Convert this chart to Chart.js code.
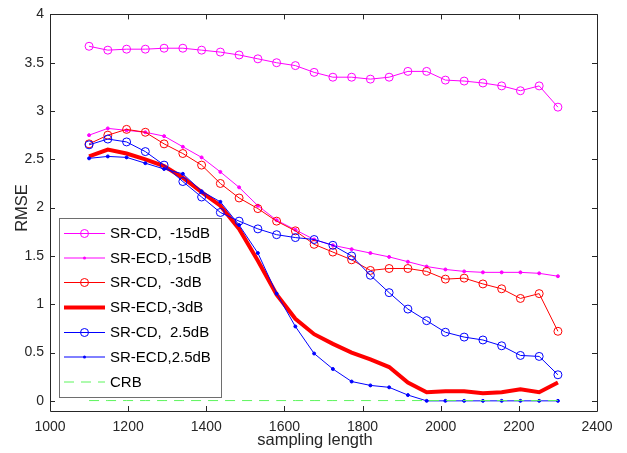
<!DOCTYPE html>
<html>
<head>
<meta charset="utf-8">
<script src="https://cdn.jsdelivr.net/npm/chart.js@4.4.1/dist/chart.umd.min.js"></script>
<style>
  html, body { margin: 0; padding: 0; background: #fff; }
  #wrap { width: 627px; height: 453px; }
</style>
</head>
<body>
<div id="wrap"><canvas id="chart" width="627" height="453"></canvas></div>
<script>
// sampling lengths (x)
const samplingLength = [1100, 1148, 1196, 1244, 1292, 1340, 1388, 1436, 1484, 1532, 1580, 1628, 1676,
    1724, 1772, 1820, 1868, 1916, 1964, 2012, 2060, 2108, 2156, 2204, 2252, 2300];

const srCd15 = [3.67, 3.63, 3.64, 3.64, 3.65, 3.65, 3.63, 3.61, 3.58, 3.54, 3.50, 3.47, 3.40,
    3.35, 3.35, 3.33, 3.35, 3.41, 3.41, 3.32, 3.31, 3.29, 3.26, 3.21, 3.26, 3.04];
const srEcd15 = [2.75, 2.82, 2.80, 2.78, 2.74, 2.63, 2.52, 2.37, 2.21, 2.02, 1.87, 1.77, 1.67,
    1.61, 1.57, 1.53, 1.49, 1.44, 1.39, 1.36, 1.34, 1.33, 1.33, 1.33, 1.32, 1.29];
const srCd3 = [2.66, 2.75, 2.81, 2.78, 2.66, 2.56, 2.44, 2.25, 2.10, 1.99, 1.86, 1.76, 1.62,
    1.54, 1.46, 1.35, 1.37, 1.37, 1.34, 1.26, 1.27, 1.21, 1.16, 1.06, 1.11, 0.72];
const srEcd3 = [2.53, 2.60, 2.56, 2.50, 2.43, 2.31, 2.16, 2.02, 1.78, 1.45, 1.10, 0.85, 0.69,
    0.59, 0.50, 0.43, 0.35, 0.19, 0.09, 0.10, 0.10, 0.08, 0.09, 0.12, 0.09, 0.19];
const srCd25 = [2.65, 2.71, 2.68, 2.58, 2.44, 2.27, 2.11, 1.95, 1.86, 1.78, 1.72, 1.69, 1.67,
    1.61, 1.50, 1.30, 1.12, 0.95, 0.83, 0.71, 0.66, 0.63, 0.57, 0.47, 0.46, 0.27];
const srEcd25 = [2.51, 2.53, 2.52, 2.46, 2.40, 2.35, 2.17, 2.06, 1.82, 1.53, 1.11, 0.77, 0.49,
    0.33, 0.20, 0.16, 0.14, 0.06, 0.00, 0.00, 0.00, 0.00, 0.00, 0.00, 0.00, 0.00];
const crb = [0.003, 0.003, 0.003, 0.003, 0.003, 0.003, 0.003, 0.003, 0.003, 0.003, 0.003, 0.003, 0.003,
    0.003, 0.003, 0.003, 0.003, 0.003, 0.003, 0.003, 0.003, 0.003, 0.003, 0.003, 0.003, 0.003];

const xTicks = [1000, 1200, 1400, 1600, 1800, 2000, 2200, 2400];
const yTicks = [0, 0.5, 1, 1.5, 2, 2.5, 3, 3.5, 4];

const FONT = '"Liberation Sans", Arial, sans-serif';
const AXIS_COLOR = '#262626';

function pts(arr) {
    return arr.map((v, i) => ({ x: samplingLength[i], y: v }));
}

function series(label, values, color, opts) {
    return Object.assign({
        label: label,
        data: pts(values),
        borderColor: color,
        backgroundColor: color,
        borderWidth: 1,
        pointRadius: 0,
        pointBorderWidth: 1,
        pointHoverRadius: 0,
        tension: 0,
        fill: false
    }, opts);
}

const datasets = [
    series('SR-CD,  -15dB', srCd15, '#ff00ff', { pointRadius: 4, pointBackgroundColor: 'rgba(0,0,0,0)', pointBorderColor: '#ff00ff' }),
    series('SR-ECD,-15dB', srEcd15, '#ff00ff', { pointRadius: 1.5, pointBackgroundColor: '#ff00ff' }),
    series('SR-CD,  -3dB', srCd3, '#ff0000', { pointRadius: 4, pointBackgroundColor: 'rgba(0,0,0,0)', pointBorderColor: '#ff0000' }),
    series('SR-ECD,-3dB', srEcd3, '#ff0000', { borderWidth: 4, pointRadius: 0 }),
    series('SR-CD,  2.5dB', srCd25, '#0000ff', { pointRadius: 4, pointBackgroundColor: 'rgba(0,0,0,0)', pointBorderColor: '#0000ff' }),
    series('SR-ECD,2.5dB', srEcd25, '#0000ff', { pointRadius: 1.5, pointBackgroundColor: '#0000ff' }),
    series('CRB', crb, '#5cf55c', { borderDash: [10, 7] })
];
// later series on top, like matlab
datasets.forEach((d, i) => { d.order = datasets.length - i; });

// frame, inward ticks, axis titles and the legend box
const matlabAxes = {
    id: 'matlabAxes',
    afterDraw(chart) {
        const ctx = chart.ctx;
        const a = chart.chartArea;
        const xs = chart.scales.x, ys = chart.scales.y;
        ctx.save();
        ctx.strokeStyle = AXIS_COLOR;
        ctx.lineWidth = 1;
        ctx.setLineDash([]);
        ctx.beginPath();
        ctx.rect(Math.round(a.left) + 0.5, Math.round(a.top) + 0.5,
            Math.round(a.right - a.left), Math.round(a.bottom - a.top));
        ctx.stroke();

        const tl = 5;
        ctx.beginPath();
        xTicks.forEach(v => {
            const px = Math.round(xs.getPixelForValue(v)) + 0.5;
            ctx.moveTo(px, a.bottom); ctx.lineTo(px, a.bottom - tl);
            ctx.moveTo(px, a.top); ctx.lineTo(px, a.top + tl);
        });
        yTicks.forEach(v => {
            const py = Math.round(ys.getPixelForValue(v)) + 0.5;
            ctx.moveTo(a.left, py); ctx.lineTo(a.left + tl, py);
            ctx.moveTo(a.right, py); ctx.lineTo(a.right - tl, py);
        });
        ctx.stroke();

        // axis titles
        ctx.fillStyle = AXIS_COLOR;
        ctx.font = '16.5px ' + FONT;
        ctx.textAlign = 'center';
        ctx.textBaseline = 'alphabetic';
        ctx.fillText('sampling length', 315, 445);
        ctx.save();
        ctx.translate(22, 208);
        ctx.rotate(-Math.PI / 2);
        ctx.textBaseline = 'middle';
        ctx.fillText('RMSE', 0, 0);
        ctx.restore();

        // legend
        const lx = 59, ly = 218, lw = 162, lh = 179;
        ctx.fillStyle = '#ffffff';
        ctx.fillRect(lx, ly, lw, lh);
        ctx.strokeStyle = '#6e6e6e';
        ctx.strokeRect(lx + 0.5, ly + 0.5, lw, lh);
        const rowY = [233.5, 258, 282.5, 307.5, 332.5, 357, 382];
        chart.data.datasets.forEach((d, i) => {
            const y = rowY[i];
            ctx.strokeStyle = d.borderColor;
            ctx.lineWidth = d.borderWidth;
            ctx.setLineDash(d.borderDash || []);
            ctx.beginPath();
            ctx.moveTo(64, y); ctx.lineTo(105, y);
            ctx.stroke();
            ctx.setLineDash([]);
            if (d.pointRadius > 0) {
                ctx.beginPath();
                ctx.arc(84.5, y, d.pointRadius, 0, Math.PI * 2);
                ctx.lineWidth = 1;
                if (d.pointRadius > 2) {
                    ctx.stroke();
                } else {
                    ctx.fillStyle = d.borderColor;
                    ctx.fill();
                }
            }
            ctx.fillStyle = '#000000';
            ctx.font = '15px ' + FONT;
            ctx.textAlign = 'left';
            ctx.textBaseline = 'middle';
            ctx.fillText(d.label, 110, y + 0.5);
        });
        ctx.restore();
    }
};

function renderChart() {
    const ctx = document.getElementById('chart').getContext('2d');
    new Chart(ctx, {
        type: 'line',
        data: { datasets: datasets },
        options: {
            responsive: false,
            animation: false,
            devicePixelRatio: 1,
            layout: { padding: { left: 0, right: 30, top: 9, bottom: 0 } },
            plugins: {
                legend: { display: false },
                tooltip: { enabled: false }
            },
            scales: {
                x: {
                    type: 'linear',
                    min: 1000,
                    max: 2400,
                    afterFit(scale) { scale.height = 42; },
                    afterBuildTicks(scale) { scale.ticks = xTicks.map(v => ({ value: v })); },
                    grid: { display: false, drawTicks: false },
                    border: { display: false },
                    ticks: {
                        padding: 8,
                        color: AXIS_COLOR,
                        font: { family: FONT, size: 14 },
                        maxRotation: 0,
                        callback: v => String(v)
                    }
                },
                y: {
                    type: 'linear',
                    min: -0.105,
                    max: 4,
                    afterFit(scale) { scale.width = 50; },
                    afterBuildTicks(scale) { scale.ticks = yTicks.map(v => ({ value: v })); },
                    grid: { display: false, drawTicks: false },
                    border: { display: false },
                    ticks: {
                        padding: 6,
                        color: AXIS_COLOR,
                        font: { family: FONT, size: 14 },
                        callback: v => String(v)
                    }
                }
            }
        },
        plugins: [matlabAxes]
    });
}

document.addEventListener('DOMContentLoaded', renderChart);
</script>
</body>
</html>
